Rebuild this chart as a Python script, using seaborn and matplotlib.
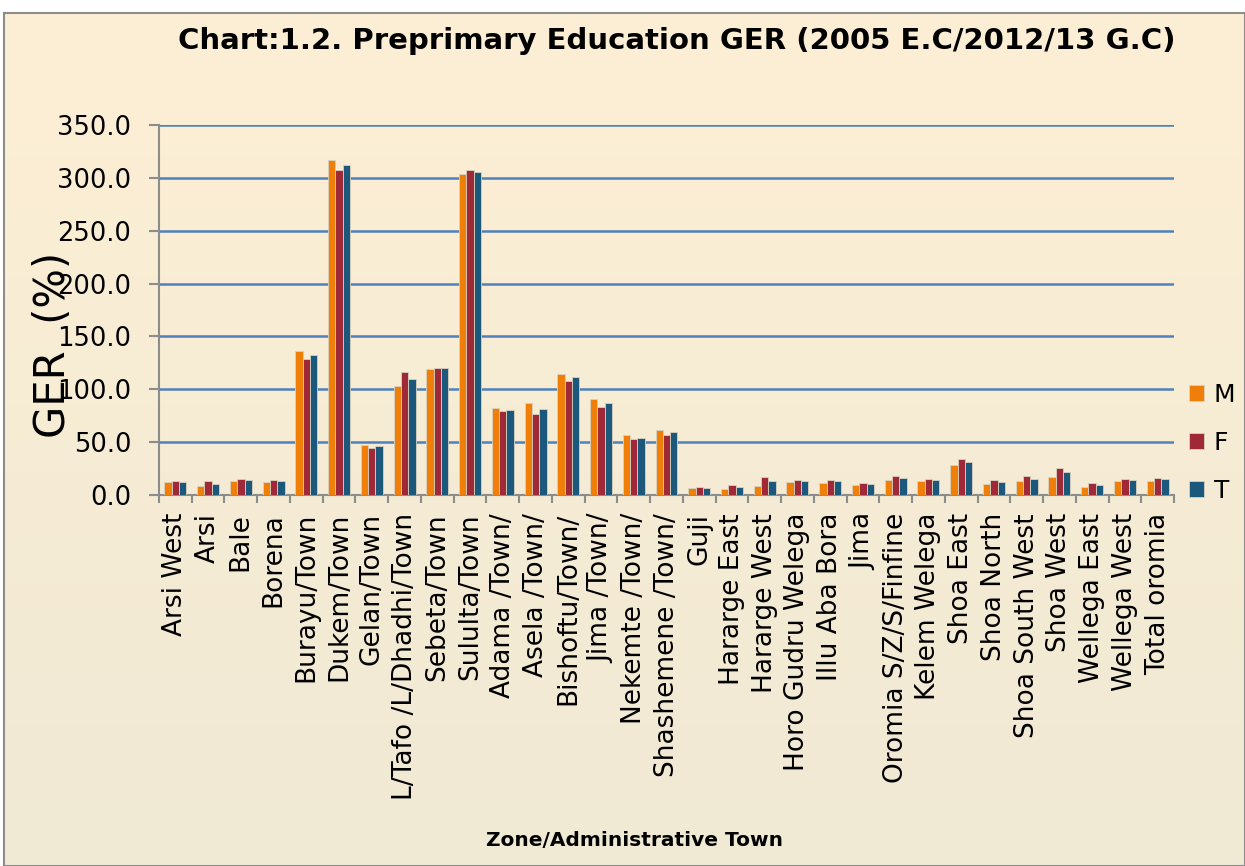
import numpy as np
import pandas as pd
import matplotlib
matplotlib.use('Agg')
import matplotlib.pyplot as plt
import seaborn as sns

# data
zones = ['Arsi West', 'Arsi', 'Bale', 'Borena', 'Burayu/Town', 'Dukem/Town',
         'Gelan/Town', 'L/Tafo /L/Dhadhi/Town', 'Sebeta/Town', 'Sululta/Town',
         'Adama /Town/', 'Asela /Town/', 'Bishoftu/Town/', 'Jima /Town/',
         'Nekemte /Town/', 'Shashemene /Town/', 'Guji', 'Hararge East',
         'Hararge West', 'Horo Gudru Welega', 'Illu Aba Bora', 'Jima',
         'Oromia S/Z/S/Finfine', 'Kelem Welega', 'Shoa East', 'Shoa North',
         'Shoa South West', 'Shoa West', 'Wellega East', 'Wellega West',
         'Total oromia']
ger_m = [12.0, 8.2, 13.0, 12.0, 135.9, 316.6, 47.6, 103.1, 119.5, 304.0,
         82.3, 86.8, 114.5, 91.1, 56.5, 61.2, 6.6, 6.0, 8.2, 12.6, 11.7, 9.5,
         13.9, 13.6, 28.1, 10.4, 13.2, 17.0, 7.6, 13.2, 12.9]
ger_f = [13.5, 13.2, 15.1, 14.2, 129.0, 307.5, 44.8, 116.1, 120.4, 307.5,
         79.2, 76.9, 107.9, 83.0, 52.7, 57.1, 7.6, 9.1, 17.0, 14.5, 14.2, 11.4,
         17.7, 15.5, 34.1, 14.5, 17.7, 25.5, 11.0, 14.8, 16.4]
ger_t = [12.3, 10.7, 14.2, 13.2, 132.5, 311.9, 46.4, 109.5, 119.9, 305.6,
         80.4, 81.7, 111.4, 86.8, 54.2, 59.3, 6.9, 7.6, 12.9, 13.6, 12.9, 10.4,
         15.8, 14.5, 30.9, 12.3, 15.5, 21.4, 9.1, 14.2, 14.8]

df = pd.DataFrame({'zone': zones * 3,
                   'sex': ['M'] * len(zones) + ['F'] * len(zones) + ['T'] * len(zones),
                   'GER': ger_m + ger_f + ger_t})

colors = {'M': '#F07F09', 'F': '#9F2936', 'T': '#1B587C'}

fig = plt.figure(figsize=(12.45, 8.66), dpi=100)

# cream gradient background with grey border
bg = fig.add_axes([4 / 1245, 0, 1 - 4 / 1245, 1 - 13 / 866])
grad = np.linspace(0, 1, 256).reshape(-1, 1)
top = np.array([253, 239, 212]) / 255
bot = np.array([240, 233, 212]) / 255
img = top + (bot - top) * grad[..., None]
bg.imshow(img, aspect='auto', extent=[0, 1, 0, 1])
bg.set_xticks([])
bg.set_yticks([])
for s in bg.spines.values():
    s.set_color('#8c8c8c')
    s.set_linewidth(1.5)

ax = fig.add_axes([159 / 1245, 1 - 495 / 866, (1174 - 159) / 1245, (495 - 125) / 866])
ax.set_facecolor('none')

sns.barplot(data=df, x='zone', y='GER', hue='sex', hue_order=['M', 'F', 'T'],
            palette=colors, width=0.67, edgecolor='#d9d2c0', linewidth=0.6,
            saturation=1, ax=ax, zorder=3)

ax.set_ylim(0, 350)
ax.set_xlim(-0.5, len(zones) - 0.5)
ax.set_yticks(np.arange(0, 351, 50))
ax.set_yticklabels([f'{v:.1f}' for v in np.arange(0, 351, 50)], fontsize=18.5)
ax.yaxis.grid(True, color='#4F81BD', linewidth=1.8, zorder=0)
ax.set_axisbelow(True)

ax.set_xticks(range(len(zones)))
ax.set_xticklabels(zones, rotation=90, fontsize=19)
ax.set_xticks(np.arange(-0.5, len(zones), 1), minor=True)
ax.tick_params(axis='x', which='major', length=0, pad=13)
ax.tick_params(axis='x', which='minor', length=6, color='#8c8c8c', width=1.5)
ax.tick_params(axis='y', length=7, color='#8c8c8c', width=1.5, pad=13)

for side in ['top', 'right']:
    ax.spines[side].set_visible(False)
for side in ['left', 'bottom']:
    ax.spines[side].set_color('#8c8c8c')
    ax.spines[side].set_linewidth(1.5)

ax.set_ylabel('')
ax.set_xlabel('')
fig.text(53 / 1245, 1 - 345 / 866, 'GER  (%)', rotation=90, fontsize=30,
         ha='center', va='center')
fig.text(634 / 1245, 1 - 841 / 866, 'Zone/Administrative Town', fontsize=14.5,
         fontweight='bold', ha='center', va='center')
fig.text(677 / 1245, 1 - 41 / 866, 'Chart:1.2. Preprimary Education GER (2005 E.C/2012/13 G.C)',
         fontsize=21, fontweight='bold', ha='center', va='center')

handles, labels = ax.get_legend_handles_labels()
ax.legend_.remove()
fig.legend(handles, labels, loc='center left', bbox_to_anchor=(1166 / 1245, 1 - 443 / 866),
           frameon=False, fontsize=18, handlelength=0.6, handleheight=0.6,
           handletextpad=0.4, labelspacing=0.95)

fig.savefig('out.png', dpi=100)
